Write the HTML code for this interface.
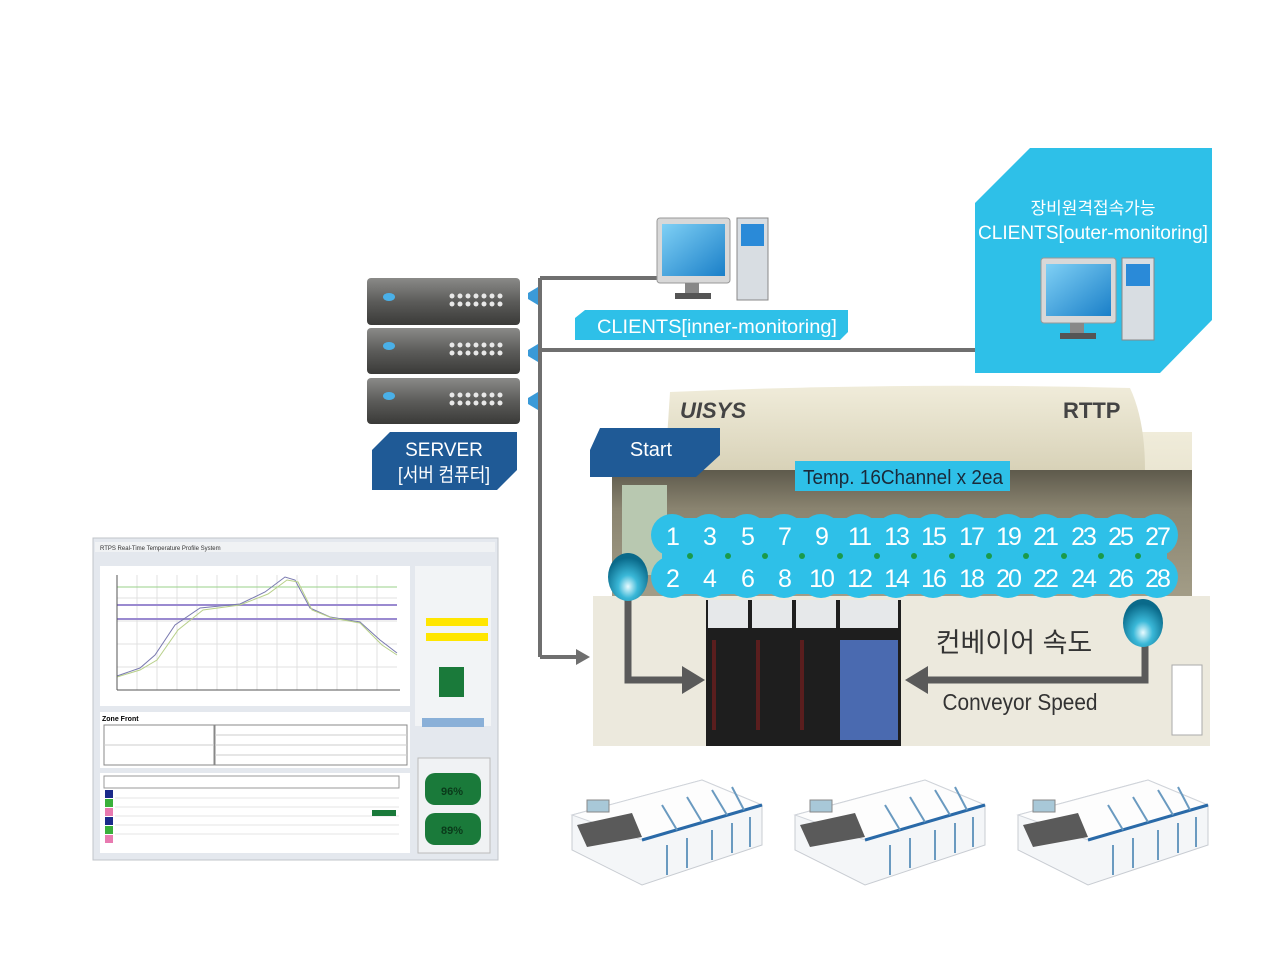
<!DOCTYPE html>
<html><head><meta charset="utf-8"><style>
body{margin:0;width:1280px;height:960px;background:#fff;overflow:hidden;position:relative;font-family:"Liberation Sans","Noto Sans CJK KR",sans-serif}
</style></head><body>
<svg width="1280" height="960" style="position:absolute;left:0;top:0" font-family="Liberation Sans, Noto Sans CJK KR, sans-serif">
<defs>
<linearGradient id="srv" x1="0" y1="0" x2="0" y2="1"><stop offset="0" stop-color="#8a8a88"/><stop offset="0.5" stop-color="#5c5c5a"/><stop offset="1" stop-color="#3a3a38"/></linearGradient>
<linearGradient id="hood" x1="0" y1="0" x2="0" y2="1"><stop offset="0" stop-color="#f0ecda"/><stop offset="1" stop-color="#d8d2b8"/></linearGradient>
<linearGradient id="band" x1="0" y1="0" x2="0" y2="1"><stop offset="0" stop-color="#5e5a4c"/><stop offset="0.3" stop-color="#8a8470"/><stop offset="1" stop-color="#a49e88"/></linearGradient>
<radialGradient id="ball" cx="0.5" cy="0.7" r="0.6"><stop offset="0" stop-color="#e8fbff"/><stop offset="0.4" stop-color="#3ab8d8"/><stop offset="1" stop-color="#0a6a8a"/></radialGradient>
<linearGradient id="mon" x1="0" y1="0" x2="1" y2="1"><stop offset="0" stop-color="#7fd0f5"/><stop offset="1" stop-color="#1a7fc8"/></linearGradient>
<g id="mach">
<polygon points="0,40 130,5 190,30 190,70 70,110 0,75" fill="#f4f6f8" stroke="#c8ccd2"/>
<polygon points="0,40 130,5 190,30 70,65" fill="#fdfdfd" stroke="#d0d4da"/>
<line x1="70" y1="65" x2="190" y2="30" stroke="#2a6aa8" stroke-width="3"/>
<polygon points="5,50 60,38 70,62 15,72" fill="#5a5a5a"/>
<rect x="15" y="25" width="22" height="12" fill="#a8c8d8" stroke="#888"/>
<g stroke="#6a9ac0" stroke-width="2"><line x1="95" y1="70" x2="95" y2="100"/><line x1="115" y1="63" x2="115" y2="93"/><line x1="140" y1="55" x2="140" y2="85"/><line x1="160" y1="48" x2="160" y2="78"/><line x1="178" y1="42" x2="178" y2="72"/>
<line x1="90" y1="30" x2="105" y2="55"/><line x1="115" y1="22" x2="130" y2="47"/><line x1="140" y1="15" x2="155" y2="40"/><line x1="160" y1="12" x2="172" y2="35"/></g>
</g>
</defs>

<g stroke="#6f6f6f" stroke-width="4" fill="none">
<line x1="540" y1="278" x2="660" y2="278"/>
<line x1="540" y1="278" x2="540" y2="657"/>
<line x1="540" y1="350" x2="976" y2="350"/>
<line x1="540" y1="657" x2="578" y2="657"/>
</g>
<polygon points="576,649 590,657 576,665" fill="#6f6f6f"/>
<g fill="#3a9ad8"><path d="M528,293 l10,-6 v18 l-10,-6z"/><path d="M528,350 l10,-6 v18 l-10,-6z"/><path d="M528,398 l10,-6 v18 l-10,-6z"/></g>

<g>
<rect x="367" y="278" width="153" height="47" rx="4" fill="url(#srv)"/>
<rect x="367" y="328" width="153" height="46" rx="4" fill="url(#srv)"/>
<rect x="367" y="378" width="153" height="46" rx="4" fill="url(#srv)"/>
<g fill="#4ab0e8"><ellipse cx="389" cy="297" rx="6" ry="4"/><ellipse cx="389" cy="346" rx="6" ry="4"/><ellipse cx="389" cy="396" rx="6" ry="4"/></g>
<g fill="#e8e8e8">
<g id="dots"><circle cx="452" cy="296" r="2.5"/><circle cx="460" cy="296" r="2.5"/><circle cx="468" cy="296" r="2.5"/><circle cx="476" cy="296" r="2.5"/><circle cx="484" cy="296" r="2.5"/><circle cx="492" cy="296" r="2.5"/><circle cx="500" cy="296" r="2.5"/>
<circle cx="452" cy="304" r="2.5"/><circle cx="460" cy="304" r="2.5"/><circle cx="468" cy="304" r="2.5"/><circle cx="476" cy="304" r="2.5"/><circle cx="484" cy="304" r="2.5"/><circle cx="492" cy="304" r="2.5"/><circle cx="500" cy="304" r="2.5"/></g>
<use href="#dots" y="49"/><use href="#dots" y="99"/>
</g>
<polygon points="390,432 517,432 517,470 497,490 372,490 372,450" fill="#1f5a96"/>
<text x="444" y="456" fill="#fff" font-size="19" text-anchor="middle">SERVER</text>
<text x="444" y="481" fill="#fff" font-size="19" text-anchor="middle" textLength="92" lengthAdjust="spacingAndGlyphs">[서버 컴퓨터]</text>
</g>

<rect x="657" y="218" width="73" height="65" rx="3" fill="#d8d8d8" stroke="#999"/>
<rect x="662" y="224" width="63" height="52" fill="url(#mon)"/>
<rect x="685" y="283" width="14" height="10" fill="#888"/><rect x="675" y="293" width="36" height="6" fill="#555"/>
<rect x="737" y="218" width="31" height="82" fill="#d8dde2" stroke="#888"/>
<rect x="741" y="224" width="23" height="22" fill="#2a8ad8"/>
<polygon points="585,310 848,310 848,332 840,340 575,340 575,318" fill="#2ec0e8"/>
<text x="717" y="333" fill="#fff" font-size="19" text-anchor="middle" textLength="240" lengthAdjust="spacingAndGlyphs">CLIENTS[inner-monitoring]</text>

<polygon points="1030,148 1212,148 1212,320 1160,373 975,373 975,203" fill="#2ec0e8"/>
<text x="1093" y="214" fill="#fff" font-size="17" text-anchor="middle">장비원격접속가능</text>
<text x="1093" y="239" fill="#fff" font-size="19" text-anchor="middle" textLength="230" lengthAdjust="spacingAndGlyphs">CLIENTS[outer-monitoring]</text>
<rect x="1041" y="258" width="75" height="65" rx="3" fill="#d8d8d8" stroke="#999"/>
<rect x="1046" y="264" width="65" height="52" fill="url(#mon)"/>
<rect x="1070" y="323" width="14" height="10" fill="#888"/><rect x="1060" y="333" width="36" height="6" fill="#555"/>
<rect x="1122" y="258" width="32" height="82" fill="#d8dde2" stroke="#888"/>
<rect x="1126" y="264" width="24" height="22" fill="#2a8ad8"/>

<rect x="1140" y="432" width="52" height="170" fill="url(#hood)"/>
<path d="M665,470 L670,392 Q900,382 1130,388 Q1145,420 1145,470 Z" fill="url(#hood)"/>
<rect x="612" y="470" width="580" height="130" fill="url(#band)"/>
<rect x="622" y="485" width="45" height="90" fill="#b8c8b0"/>
<text x="680" y="418" font-size="22" font-weight="bold" font-style="italic" fill="#444">UISYS</text>
<text x="1063" y="418" font-size="22" font-weight="bold" fill="#444">RTTP</text>
<rect x="593" y="596" width="617" height="150" fill="#ece9dd"/>
<rect x="706" y="600" width="195" height="146" fill="#1e1e1e"/>
<g fill="#e6e8ea"><rect x="708" y="600" width="40" height="28"/><rect x="752" y="600" width="40" height="28"/><rect x="796" y="600" width="40" height="28"/><rect x="840" y="600" width="58" height="28"/></g>
<g fill="#5a1e1e"><rect x="712" y="640" width="4" height="90"/><rect x="756" y="640" width="4" height="90"/><rect x="800" y="640" width="4" height="90"/></g>
<rect x="840" y="640" width="58" height="100" fill="#4a6ab0"/>
<rect x="1172" y="665" width="30" height="70" fill="#fff" stroke="#aaa"/>
<polygon points="600,428 720,428 720,455 696,477 590,477 590,450" fill="#1f5a96"/>
<text x="651" y="456" fill="#fff" font-size="20" text-anchor="middle">Start</text>
<rect x="795" y="461" width="215" height="30" fill="#2ec0e8"/>
<text x="903" y="484" fill="#1a2a3a" font-size="20" text-anchor="middle" textLength="200" lengthAdjust="spacingAndGlyphs">Temp. 16Channel x 2ea</text>

<g stroke="#5a5a5a" stroke-width="7" fill="none">
<path d="M628,598 V680 H685"/>
<path d="M1145,645 V680 H925"/>
</g>
<polygon points="682,666 705,680 682,694" fill="#5a5a5a"/>
<polygon points="928,666 905,680 928,694" fill="#5a5a5a"/>
<text x="1014" y="652" font-size="27" text-anchor="middle" fill="#333">컨베이어 속도</text>
<text x="1020" y="710" font-size="23" text-anchor="middle" fill="#333" textLength="155" lengthAdjust="spacingAndGlyphs">Conveyor Speed</text>

<rect x="662" y="518" width="505" height="76" rx="20" fill="#2ec0e8"/>
<g fill="#2ec0e8">
<circle cx="672" cy="535" r="21"/><circle cx="709" cy="535" r="21"/><circle cx="747" cy="535" r="21"/><circle cx="784" cy="535" r="21"/><circle cx="821" cy="535" r="21"/><circle cx="859" cy="535" r="21"/><circle cx="896" cy="535" r="21"/><circle cx="933" cy="535" r="21"/><circle cx="971" cy="535" r="21"/><circle cx="1008" cy="535" r="21"/><circle cx="1045" cy="535" r="21"/><circle cx="1083" cy="535" r="21"/><circle cx="1120" cy="535" r="21"/><circle cx="1157" cy="535" r="21"/>
<circle cx="672" cy="577" r="21"/><circle cx="709" cy="577" r="21"/><circle cx="747" cy="577" r="21"/><circle cx="784" cy="577" r="21"/><circle cx="821" cy="577" r="21"/><circle cx="859" cy="577" r="21"/><circle cx="896" cy="577" r="21"/><circle cx="933" cy="577" r="21"/><circle cx="971" cy="577" r="21"/><circle cx="1008" cy="577" r="21"/><circle cx="1045" cy="577" r="21"/><circle cx="1083" cy="577" r="21"/><circle cx="1120" cy="577" r="21"/><circle cx="1157" cy="577" r="21"/>
</g>
<g fill="#1a9a4a"><circle cx="690" cy="556" r="3"/><circle cx="728" cy="556" r="3"/><circle cx="765" cy="556" r="3"/><circle cx="802" cy="556" r="3"/><circle cx="840" cy="556" r="3"/><circle cx="877" cy="556" r="3"/><circle cx="914" cy="556" r="3"/><circle cx="952" cy="556" r="3"/><circle cx="989" cy="556" r="3"/><circle cx="1026" cy="556" r="3"/><circle cx="1064" cy="556" r="3"/><circle cx="1101" cy="556" r="3"/><circle cx="1138" cy="556" r="3"/></g>
<g fill="#fff" font-size="25" text-anchor="middle" letter-spacing="-2">
<text x="672" y="545">1</text><text x="709" y="545">3</text><text x="747" y="545">5</text><text x="784" y="545">7</text><text x="821" y="545">9</text><text x="859" y="545">11</text><text x="896" y="545">13</text><text x="933" y="545">15</text><text x="971" y="545">17</text><text x="1008" y="545">19</text><text x="1045" y="545">21</text><text x="1083" y="545">23</text><text x="1120" y="545">25</text><text x="1157" y="545">27</text>
<text x="672" y="587">2</text><text x="709" y="587">4</text><text x="747" y="587">6</text><text x="784" y="587">8</text><text x="821" y="587">10</text><text x="859" y="587">12</text><text x="896" y="587">14</text><text x="933" y="587">16</text><text x="971" y="587">18</text><text x="1008" y="587">20</text><text x="1045" y="587">22</text><text x="1083" y="587">24</text><text x="1120" y="587">26</text><text x="1157" y="587">28</text>
</g>
<ellipse cx="628" cy="577" rx="20" ry="24" fill="url(#ball)"/>
<ellipse cx="1143" cy="623" rx="20" ry="24" fill="url(#ball)"/>

<use href="#mach" x="572" y="775"/>
<use href="#mach" x="795" y="775"/>
<use href="#mach" x="1018" y="775"/>

<rect x="93" y="538" width="405" height="322" fill="#e4e8ee" stroke="#c0c4ca"/>
<rect x="95" y="542" width="400" height="10" fill="#f0f2f4"/>
<text x="100" y="550" font-size="6" fill="#333">RTPS Real-Time Temperature Profile System</text>
<rect x="100" y="566" width="310" height="140" fill="#fff"/>
<g stroke="#e0e0e0" stroke-width="1">
<line x1="117" y1="575" x2="117" y2="690"/><line x1="137" y1="575" x2="137" y2="690"/><line x1="157" y1="575" x2="157" y2="690"/><line x1="177" y1="575" x2="177" y2="690"/><line x1="197" y1="575" x2="197" y2="690"/><line x1="217" y1="575" x2="217" y2="690"/><line x1="237" y1="575" x2="237" y2="690"/><line x1="257" y1="575" x2="257" y2="690"/><line x1="277" y1="575" x2="277" y2="690"/><line x1="297" y1="575" x2="297" y2="690"/><line x1="317" y1="575" x2="317" y2="690"/><line x1="337" y1="575" x2="337" y2="690"/><line x1="357" y1="575" x2="357" y2="690"/><line x1="377" y1="575" x2="377" y2="690"/>
<line x1="117" y1="598" x2="397" y2="598"/><line x1="117" y1="621" x2="397" y2="621"/><line x1="117" y1="644" x2="397" y2="644"/><line x1="117" y1="667" x2="397" y2="667"/>
</g>
<line x1="117" y1="587" x2="397" y2="587" stroke="#9ad08a"/>
<line x1="117" y1="605" x2="397" y2="605" stroke="#9a8ad0" stroke-width="2"/>
<line x1="117" y1="619" x2="397" y2="619" stroke="#9a8ad0" stroke-width="2"/>
<polyline points="117,676 140,668 155,655 175,625 200,608 240,604 265,592 285,577 295,580 310,608 330,617 360,622 380,640 397,653" fill="none" stroke="#7a7ab0"/>
<polyline points="117,677 140,670 157,660 178,630 203,610 240,605 268,594 287,580 298,582 312,610 332,618 360,623 382,645 397,655" fill="none" stroke="#b8d08a"/>
<line x1="117" y1="575" x2="117" y2="690" stroke="#555"/><line x1="117" y1="690" x2="400" y2="690" stroke="#555"/>
<rect x="415" y="566" width="76" height="160" fill="#f2f4f6"/>
<rect x="426" y="618" width="62" height="8" fill="#ffe600"/><rect x="426" y="633" width="62" height="8" fill="#ffe600"/>
<rect x="439" y="667" width="25" height="30" fill="#1a7a3a"/>
<rect x="422" y="718" width="62" height="9" fill="#8ab0d8"/>
<rect x="100" y="712" width="310" height="56" fill="#fff"/>
<text x="102" y="721" font-size="7" font-weight="bold">Zone Front</text>
<g stroke="#888" fill="none"><rect x="104" y="725" width="110" height="40"/><rect x="215" y="725" width="192" height="40"/></g>
<g stroke="#ccc"><line x1="215" y1="735" x2="407" y2="735"/><line x1="215" y1="745" x2="407" y2="745"/><line x1="215" y1="755" x2="407" y2="755"/><line x1="104" y1="745" x2="214" y2="745"/></g>
<rect x="100" y="773" width="310" height="80" fill="#fff"/>
<g stroke="#999" fill="none"><rect x="104" y="776" width="295" height="12"/></g>
<g stroke="#e4e4e4"><line x1="115" y1="798" x2="399" y2="798"/><line x1="115" y1="807" x2="399" y2="807"/><line x1="115" y1="816" x2="399" y2="816"/><line x1="115" y1="825" x2="399" y2="825"/><line x1="115" y1="834" x2="399" y2="834"/></g>
<g><rect x="105" y="790" width="8" height="8" fill="#1a2a8a"/><rect x="105" y="799" width="8" height="8" fill="#3ab03a"/><rect x="105" y="808" width="8" height="8" fill="#e87ab0"/><rect x="105" y="817" width="8" height="8" fill="#1a2a8a"/><rect x="105" y="826" width="8" height="8" fill="#3ab03a"/><rect x="105" y="835" width="8" height="8" fill="#e87ab0"/></g>
<rect x="372" y="810" width="24" height="6" fill="#1a7a3a"/>
<rect x="418" y="758" width="72" height="95" fill="#f0f2f4" stroke="#bbb"/>
<rect x="425" y="773" width="56" height="32" rx="10" fill="#1a7a3a"/>
<rect x="425" y="813" width="56" height="32" rx="10" fill="#1a7a3a"/>
<text x="452" y="795" font-size="11" fill="#0a3a1a" text-anchor="middle" font-weight="bold">96%</text>
<text x="452" y="834" font-size="11" fill="#0a3a1a" text-anchor="middle" font-weight="bold">89%</text>
</svg>
</body></html>
